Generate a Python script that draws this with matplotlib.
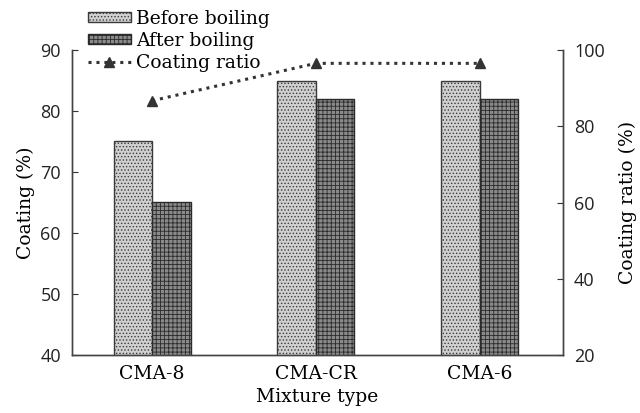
import matplotlib
matplotlib.use("Agg")
import matplotlib.pyplot as plt
import numpy as np

plt.rcParams['hatch.linewidth'] = 0.6

categories = ["CMA-8", "CMA-CR", "CMA-6"]
before_boiling = [75, 85, 85]
after_boiling = [65, 82, 82]
coating_ratio = [86.7, 96.5, 96.5]
left_ticks = [40, 50, 60, 70, 80, 90]
right_ticks = [20, 40, 60, 80, 100]

serif = "DejaVu Serif"
sans = "Open Sans"
fs = 13.5

fig = plt.figure(figsize=(6.4, 4.13), dpi=100)
ax = fig.add_axes([72/640, 1-355/413, (563-72)/640, (355-50)/413])
ax2 = ax.twinx()

x = np.arange(len(categories))
w = 0.235
b1 = ax.bar(x - w/2, before_boiling, w, facecolor="#d0d0d0", edgecolor="#3a3a3a",
            hatch=".....", linewidth=1.0, label="Before boiling", zorder=2)
b2 = ax.bar(x + w/2, after_boiling, w, facecolor="#8a8a8a", edgecolor="#2a2a2a",
            hatch="++++", linewidth=1.0, label="After boiling", zorder=2)

ln, = ax2.plot(x, coating_ratio, linestyle=(0, (1, 1.6)), color="#333333", linewidth=2.2,
               marker="^", markersize=7.5, markerfacecolor="#333333", label="Coating ratio")

ax.set_xlim(-0.49, 2.51)
ax.set_ylim(40, 90)
ax2.set_ylim(20, 100)
ax.set_yticks(left_ticks)
ax2.set_yticks(right_ticks)
ax.set_xticks(x)
ax.set_xticklabels(categories, fontfamily=serif, fontsize=fs)
ax.tick_params(axis='x', length=0, pad=7)
ax.tick_params(axis='y', direction='in', length=4, pad=8, labelsize=13, colors="#333333")
ax2.tick_params(axis='y', direction='in', length=4, pad=8, labelsize=13, colors="#333333")
for lab in ax.get_yticklabels() + ax2.get_yticklabels():
    lab.set_fontfamily(sans)
    lab.set_color("#222222")

for a in (ax, ax2):
    a.spines['top'].set_visible(False)
    for s in a.spines.values():
        s.set_color("#444444")
        s.set_linewidth(1.0)

ax.set_ylabel("Coating (%)", fontfamily=serif, fontsize=fs, labelpad=4)
ax2.set_ylabel("Coating ratio (%)", fontfamily=serif, fontsize=fs, labelpad=10)
ax.set_xlabel("Mixture type", fontfamily=serif, fontsize=fs, labelpad=4)

fig.legend(handles=[b1, b2, ln], loc="upper left", bbox_to_anchor=(82/640, 1 - 4/413),
           frameon=False, borderaxespad=0.2, borderpad=0.1, handlelength=2.3,
           handleheight=0.45, handletextpad=0.3, labelspacing=0.22,
           prop={"family": serif, "size": fs})

fig.savefig("out.png", dpi=100)
